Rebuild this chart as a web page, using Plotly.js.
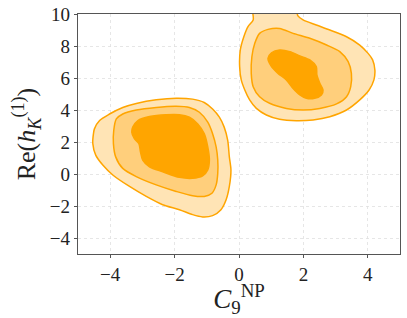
<!DOCTYPE html>
<html><head><meta charset="utf-8">
<script src="https://cdn.plot.ly/plotly-3.0.1.min.js"></script>
<style>html,body{margin:0;padding:0;background:#fff}#plot{width:407px;height:318px}</style>
</head><body><div id="plot"></div>
<script>
// Contour outlines (data units)
const leftOuterX = [-4.49,-4.33,-4.02,-3.61,-3.19,-2.57,-1.95,-1.44,-1.08,-0.82,-0.61,-0.46,-0.35,-0.30,-0.25,-0.30,-0.40,-0.56,-0.82,-1.13,-1.44,-1.85,-2.37,-2.88,-3.40,-3.92,-4.23,-4.45,-4.54,-4.52];
const leftOuterY = [2.82,3.34,3.75,4.16,4.41,4.64,4.74,4.68,4.47,4.06,3.55,2.93,2.10,1.07,0.25,-0.78,-1.61,-2.23,-2.60,-2.68,-2.54,-2.23,-1.92,-1.40,-0.78,-0.06,0.56,1.18,1.90,2.52];
const leftMidX = [-3.81,-3.61,-3.19,-2.57,-1.95,-1.54,-1.23,-0.97,-0.82,-0.71,-0.66,-0.66,-0.71,-0.84,-1.08,-1.44,-1.95,-2.57,-3.19,-3.61,-3.83,-3.90,-3.89];
const leftMidY = [3.44,3.75,4.00,4.16,4.23,4.16,3.86,3.24,2.52,1.69,0.87,0.04,-0.68,-1.20,-1.40,-1.36,-1.09,-0.68,-0.16,0.35,1.07,1.90,2.72];
const leftInX = [-3.30,-3.14,-2.78,-2.26,-1.85,-1.54,-1.28,-1.08,-0.97,-0.92,-0.97,-1.13,-1.44,-1.85,-2.37,-2.78,-2.99,-3.06,-3.11,-3.25,-3.33];
const leftInY = [2.93,3.34,3.59,3.71,3.71,3.55,3.13,2.52,1.69,0.87,0.25,-0.12,-0.27,-0.21,0.14,0.45,0.87,1.38,1.90,2.21,2.62];
const rightOuterX = [0.45,0.44,0.28,0.15,0.04,0.02,0.07,0.18,0.33,0.54,0.85,1.26,1.78,2.30,2.82,3.34,3.75,4.04,4.19,4.22,4.15,4.01,3.75,3.34,2.82,2.40,1.99,1.83,1.75];
const rightOuterY = [10.4,9.63,9.21,8.58,7.75,6.71,5.88,5.25,4.63,4.10,3.69,3.42,3.33,3.38,3.58,4.00,4.63,5.25,5.88,6.50,7.13,7.54,8.06,8.58,9.00,9.31,9.63,9.88,10.4];
const rightMidX = [0.64,0.90,1.26,1.68,2.20,2.72,3.13,3.39,3.49,3.47,3.34,3.03,2.51,1.99,1.47,0.95,0.64,0.44,0.38,0.40,0.49];
const rightMidY = [8.79,9.04,9.10,8.79,8.48,8.06,7.65,7.02,6.29,5.46,4.83,4.38,4.10,4.00,4.10,4.42,4.83,5.46,6.29,7.33,8.17];
const rightInX = [0.90,1.01,1.26,1.58,1.89,2.20,2.40,2.42,2.51,2.61,2.56,2.35,2.09,1.89,1.68,1.47,1.21,1.01];
const rightInY = [7.23,7.58,7.75,7.65,7.38,7.13,6.71,6.19,5.67,5.25,4.94,4.73,4.73,4.94,5.35,5.88,6.29,6.71];

const xTicks = [-4,-2,0,2,4];
const yTicks = [-4,-2,0,2,4,6,8,10];

const LINE = '#ffa500';
const fills = ['rgb(255,228,181)','rgb(255,207,124)','rgb(255,165,0)'];
function poly(x,y,fc){
  return {type:'scatter',mode:'lines',x:x.concat([x[0]]),y:y.concat([y[0]]),fill:'toself',
    fillcolor:fc,line:{color:LINE,width:1.5,shape:'spline',smoothing:0.8},hoverinfo:'skip',showlegend:false};
}
const data = [
  poly(leftOuterX,leftOuterY,fills[0]),
  poly(rightOuterX,rightOuterY,fills[0]),
  poly(leftMidX,leftMidY,fills[1]),
  poly(rightMidX,rightMidY,fills[1]),
  poly(leftInX,leftInY,fills[2]),
  poly(rightInX,rightInY,fills[2])
];
const FAM = 'Liberation Serif, DejaVu Serif, serif';
const tickFont = {family:FAM,size:19,color:'#222'};
const axBase = {showline:true,mirror:true,linecolor:'#555',linewidth:1.2,ticks:'outside',ticklen:3,tickcolor:'#555',
  showgrid:true,gridcolor:'#e0e0e0',griddash:'dot',gridwidth:0.8,zeroline:false,tickfont:tickFont};
const layout = {
  width:407,height:318,margin:{l:78,r:7,t:14,b:64},paper_bgcolor:'#fff',plot_bgcolor:'#fff',
  xaxis:Object.assign({},axBase,{range:[-5,5],tickvals:xTicks,ticktext:xTicks.map(v=>v<0?'\u2212'+Math.abs(v):String(v)),
    title:{text:'<i>C</i><sub>9</sub><sup>NP</sup>',font:{family:FAM,size:27,color:'#222'},standoff:2}}),
  yaxis:Object.assign({},axBase,{range:[-5,10],tickvals:yTicks,ticktext:yTicks.map(v=>v<0?'\u2212'+Math.abs(v):String(v)),
    title:{text:'Re(<i>h</i><sub><i>K</i></sub><sup>(1)</sup>)',font:{family:FAM,size:26,color:'#222'},standoff:6}})
};
Plotly.newPlot('plot',data,layout,{staticPlot:true,displayModeBar:false});
</script></body></html>
